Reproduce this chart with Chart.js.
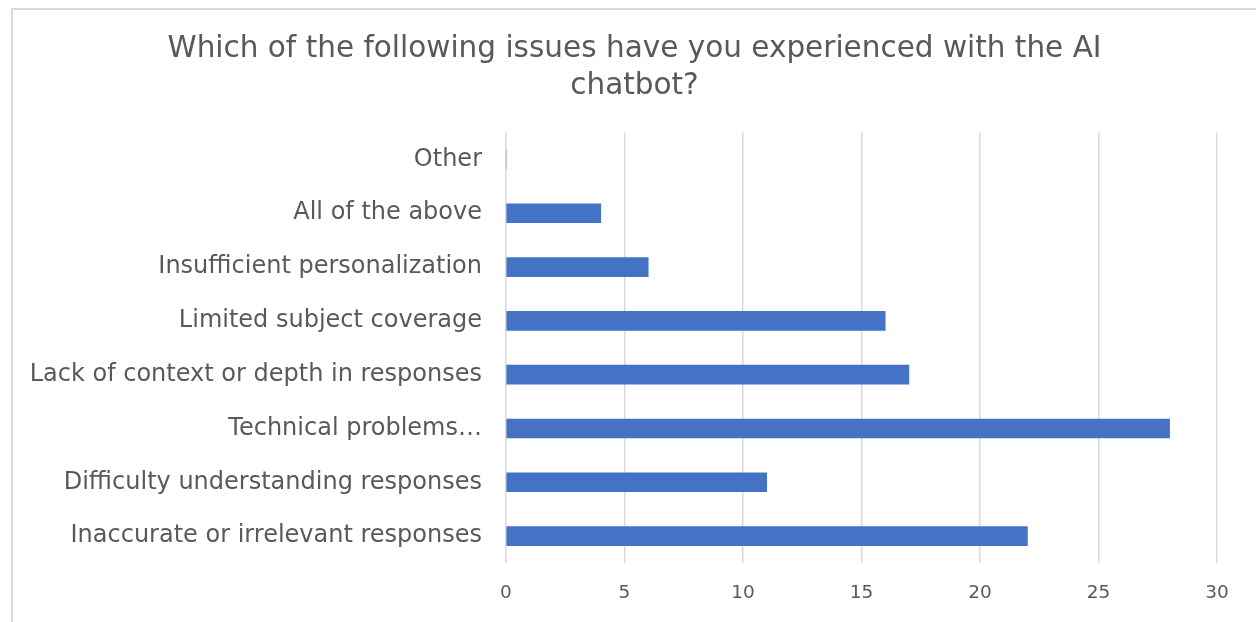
<!DOCTYPE html>
<html lang="en">
<head>
    <meta charset="UTF-8">
    <title>AI chatbot issues</title>
    <script src="https://cdn.jsdelivr.net/npm/chart.js"></script>
    <style>
        html, body { margin: 0; padding: 0; background: #fff; }
        #wrap { width: 1256px; height: 622px; }
    </style>
</head>
<body>
    <div id="wrap"><canvas id="issuesChart"></canvas></div>

    <script>
        // categories top to bottom, as in the picture
        const categories = [
            'Other',
            'All of the above',
            'Insufficient personalization',
            'Limited subject coverage',
            'Lack of context or depth in responses',
            'Technical problems…',
            'Difficulty understanding responses',
            'Inaccurate or irrelevant responses'
        ];
        const counts = [0, 4, 6, 16, 17, 28, 11, 22];
        const xTicks = [0, 5, 10, 15, 20, 25, 30];
        const titleLines = ['Which of the following issues have you experienced with the AI', 'chatbot?'];

        const textColor = '#595959';
        const gridColor = '#d9d9d9';

        // light frame round the chart, like the spreadsheet chart border
        const framePlugin = {
            id: 'frame',
            beforeDraw(chart) {
                const c = chart.ctx;
                c.save();
                c.strokeStyle = gridColor;
                c.lineWidth = 2;
                c.strokeRect(12, 9, chart.width + 20, chart.height + 20);
                c.restore();
            }
        };

        Chart.defaults.font.family = '"DejaVu Sans", Verdana, sans-serif';
        Chart.defaults.color = textColor;

        new Chart(document.getElementById('issuesChart'), {
            type: 'bar',
            data: {
                labels: categories,
                datasets: [{
                    label: 'Count',
                    data: counts,
                    backgroundColor: '#4472C4',
                    barThickness: 19
                }]
            },
            options: {
                indexAxis: 'y',
                responsive: true,
                maintainAspectRatio: false,
                animation: false,
                layout: { padding: { top: 10, right: 0, bottom: 0, left: 13 } },
                plugins: {
                    legend: { display: false },
                    tooltip: { enabled: false },
                    title: {
                        display: true,
                        text: titleLines,
                        color: textColor,
                        font: { size: 29.5, weight: 'normal', lineHeight: 1.28 },
                        padding: { top: 20, bottom: 27 }
                    }
                },
                scales: {
                    x: {
                        min: 0,
                        max: 30,
                        afterBuildTicks(scale) {
                            scale.ticks = xTicks.map(v => ({ value: v }));
                        },
                        afterFit(scale) { scale.height = 59; },
                        grid: { color: gridColor, lineWidth: 1.5, drawTicks: false },
                        border: { display: false },
                        ticks: { padding: 19, font: { size: 18.5 }, color: textColor }
                    },
                    y: {
                        afterFit(scale) { scale.width = 493; },
                        grid: { display: false, drawTicks: false },
                        border: { display: false },
                        ticks: { padding: 24, font: { size: 24 }, color: textColor }
                    },
                    // empty right-hand strip so the plot ends where the reference does
                    yRight: {
                        type: 'category',
                        position: 'right',
                        afterFit(scale) { scale.width = 39; },
                        grid: { display: false, drawTicks: false },
                        border: { display: false },
                        ticks: { display: false }
                    }
                }
            },
            plugins: [framePlugin]
        });
    </script>
</body>
</html>
